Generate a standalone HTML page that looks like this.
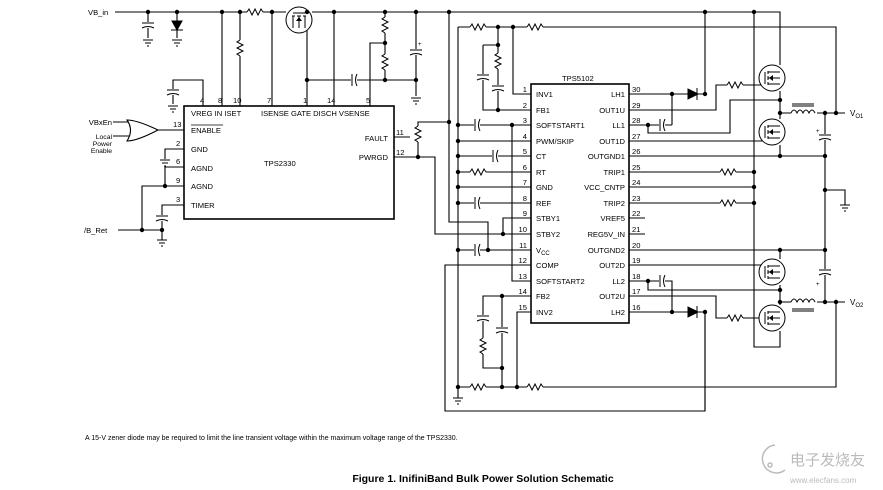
<!DOCTYPE html>
<html><head><meta charset="utf-8"><style>
html,body{margin:0;padding:0;background:#fff;}
svg{display:block;}
text{font-family:"Liberation Sans",Arial,sans-serif;fill:#000;}
.l{font-size:7.6px;}
.n{font-size:7.6px;}
</style></head><body>
<svg width="883" height="490" viewBox="0 0 883 490" xmlns="http://www.w3.org/2000/svg">
<defs>
<g id="rh"><rect x="0" y="-4" width="16" height="8" fill="#fff"/><path d="M0,0 l2,-3 l3,6 l3,-6 l3,6 l3,-6 l2,3" fill="none" stroke="#000" stroke-width="1"/></g>
<g id="rv"><rect x="-4" y="0" width="8" height="16" fill="#fff"/><path d="M0,0 l-3,2 l6,3 l-6,3 l6,3 l-6,3 l3,2" fill="none" stroke="#000" stroke-width="1"/></g>
<g id="ch"><rect x="-3" y="-7" width="6" height="14" fill="#fff"/><path d="M-2,-6 v12 M3,-6 q-3,6 0,12" fill="none" stroke="#000" stroke-width="1"/></g>
<g id="cv"><rect x="-7" y="-3" width="14" height="6" fill="#fff"/><path d="M-6,-2 h12 M-6,3 q6,-3 12,0" fill="none" stroke="#000" stroke-width="1"/></g>
<g id="gnd"><path d="M-5,0 h10 M-3,3 h6 M-1,6 h2" stroke="#000" stroke-width="1"/></g>
<circle id="d" r="2.2" fill="#000"/>
<g id="mos"><circle r="13" fill="#fff" stroke="#000" stroke-width="1"/><path d="M-7,-6 v12 M-4,-7 v3 M-4,-2 v4 M-4,4 v3 M-4,-6 h12 M-4,6 h12 M-4,0 h12" fill="none" stroke="#000" stroke-width="1"/><path d="M-3,0 l4,-3 v6 z" fill="#000"/></g>
</defs>
<g fill="none" stroke="#000" stroke-width="1.1">
<!-- top rail -->
<path d="M115,12 H286 M312,12 H780 V65"/>
<path d="M148,12 V38 M177,12 V38 M222,12 V106 M240,12 V106 M272,12 V106 M307,28 V106 M334,12 V106 M385,12 V80 M416,12 V96 M370,106 V43 H385 M307,80 H416"/>
<path d="M203,106 V80 H173 V104"/>
<!-- TPS2330 left -->
<path d="M158,130 H184 M184,149 H165 V159 M184,167 H165 V186 M184,186 H142 V230 M184,205 H162 V240 M118,230 H162"/>
<path d="M113,122 H131 M113,136 H131"/>
<path d="M127,120 Q137,120 158,130 Q137,141 127,141 Q134,130 127,120 Z" fill="#fff"/>
<!-- TPS2330 right -->
<path d="M394,137 H410 M394,157 H435 V234 H531 M418,157 V122 H449"/>
<!-- 449 and 458 -->
<path d="M449,12 V222 H488 V250 M458,27 V398 M458,27 H836 V113 M498,27 V110 M483,45 V110 H531 M483,45 H498 M513,27 V94 H531"/>
<path d="M458,125 H531 M458,141 H531 M458,156 H531 M458,172 H531 M458,187 H531 M458,203 H531 M458,250 H531 M531,218 H503 V234 M531,281 H512 V125 M531,265 H445 V411 H705 V312"/>
<path d="M531,296 H483 V368 H502 M502,296 V387 M531,312 H517 V387 M458,387 H836 V302"/>
<!-- right pins -->
<path d="M629,94 H705 M705,12 V94 M672,94 V125 M629,125 H672 M648,125 V133 H730 V100 H780 M629,110 H716 V85 H762 M629,141 H762 M629,156 H825"/>
<path d="M629,172 H754 M629,187 H754 M629,203 H754 M629,218 H645 M629,234 H645 M629,250 H825 M629,265 H762"/>
<path d="M629,281 H672 V312 M648,281 V290 H780 M629,296 H716 V318 H762 M629,312 H705 M705,312 V411"/>
<path d="M754,12 V347 H780 V331 M780,91 V119 M780,145 V156 M780,250 V259 M780,285 V305 M780,302 V305"/>
<path d="M780,113 H836 H845 M780,302 H845 M825,113 V302 M825,190 H845 V205"/>
<rect x="184" y="106" width="210" height="113" stroke-width="1.6"/>
<rect x="531" y="84" width="98" height="239" stroke-width="1.6"/>
</g>
<!-- components -->
<use href="#rh" x="247" y="12"/>
<use href="#mos" x="299" y="20" transform="rotate(90 299 20)"/>
<use href="#cv" x="148" y="25"/><use href="#gnd" x="148" y="40"/>
<path d="M171,30 h12 M172,21 h10 l-5,9 z" fill="#000" stroke="#000"/><use href="#gnd" x="177" y="40"/>
<use href="#rv" x="240" y="40"/>
<use href="#rv" x="385" y="17"/><use href="#rv" x="385" y="54"/>
<use href="#ch" x="354" y="80"/>
<use href="#cv" x="416" y="52"/><text x="418" y="46" style="font-size:6px">+</text><use href="#gnd" x="416" y="98"/>
<use href="#cv" x="173" y="92"/><use href="#gnd" x="173" y="106"/>
<use href="#gnd" x="165" y="160"/>
<use href="#cv" x="162" y="218"/><use href="#gnd" x="162" y="240"/>
<use href="#rv" x="418" y="126"/>
<use href="#rh" x="470" y="27"/><use href="#rh" x="527" y="27"/>
<use href="#rv" x="498" y="53"/><use href="#cv" x="498" y="88"/><use href="#cv" x="483" y="77"/>
<use href="#ch" x="477" y="125"/><use href="#ch" x="495" y="156"/><use href="#rh" x="470" y="172"/><use href="#ch" x="477" y="203"/><use href="#ch" x="477" y="250"/>
<use href="#cv" x="502" y="330"/><use href="#cv" x="483" y="318"/><use href="#rv" x="483" y="338"/>
<use href="#rh" x="470" y="387"/><use href="#rh" x="527" y="387"/>
<use href="#gnd" x="458" y="398"/>
<use href="#ch" x="662" y="125"/><use href="#ch" x="662" y="281"/>
<path d="M697,88 v12 M698,94 l-10,-5 v10 z" fill="#000" stroke="#000"/>
<path d="M697,306 v12 M698,312 l-10,-5 v10 z" fill="#000" stroke="#000"/>
<use href="#rh" x="727" y="85"/><use href="#rh" x="727" y="318"/>
<use href="#rh" x="720" y="172"/><use href="#rh" x="720" y="203"/>
<use href="#mos" x="772" y="78"/><use href="#mos" x="772" y="132"/><use href="#mos" x="772" y="272"/><use href="#mos" x="772" y="318"/>
<g fill="#fff" stroke="#000" stroke-width="1"><rect x="791" y="108" width="26" height="6" stroke="none"/><path d="M791,113 q3,-6 6,0 q3,-6 6,0 q3,-6 6,0 q3,-6 6,0 M792,104 h22 M792,106 h22"/>
<rect x="791" y="297" width="26" height="6" stroke="none"/><path d="M791,302 q3,-6 6,0 q3,-6 6,0 q3,-6 6,0 q3,-6 6,0 M792,309 h22 M792,311 h22"/></g>
<use href="#cv" x="825" y="137"/><text x="816" y="133" style="font-size:6px">+</text>
<use href="#cv" x="825" y="272"/><text x="816" y="286" style="font-size:6px">+</text>
<use href="#gnd" x="845" y="205"/>
<g>
<use href="#d" x="148" y="12"/><use href="#d" x="177" y="12"/><use href="#d" x="222" y="12"/><use href="#d" x="240" y="12"/><use href="#d" x="272" y="12"/><use href="#d" x="307" y="12"/><use href="#d" x="334" y="12"/><use href="#d" x="385" y="12"/><use href="#d" x="416" y="12"/><use href="#d" x="449" y="12"/><use href="#d" x="705" y="12"/><use href="#d" x="754" y="12"/>
<use href="#d" x="385" y="43"/><use href="#d" x="307" y="80"/><use href="#d" x="385" y="80"/><use href="#d" x="416" y="80"/>
<use href="#d" x="165" y="186"/><use href="#d" x="142" y="230"/><use href="#d" x="162" y="230"/>
<use href="#d" x="418" y="157"/><use href="#d" x="449" y="122"/>
<use href="#d" x="498" y="27"/><use href="#d" x="513" y="27"/><use href="#d" x="498" y="45"/><use href="#d" x="498" y="110"/>
<use href="#d" x="458" y="125"/><use href="#d" x="512" y="125"/><use href="#d" x="458" y="141"/><use href="#d" x="458" y="156"/><use href="#d" x="458" y="172"/><use href="#d" x="458" y="187"/><use href="#d" x="458" y="203"/><use href="#d" x="503" y="234"/><use href="#d" x="458" y="250"/><use href="#d" x="488" y="250"/>
<use href="#d" x="502" y="296"/><use href="#d" x="502" y="368"/><use href="#d" x="458" y="387"/><use href="#d" x="502" y="387"/><use href="#d" x="517" y="387"/>
<use href="#d" x="672" y="94"/><use href="#d" x="705" y="94"/><use href="#d" x="648" y="125"/><use href="#d" x="672" y="312"/><use href="#d" x="705" y="312"/><use href="#d" x="648" y="281"/>
<use href="#d" x="754" y="172"/><use href="#d" x="754" y="187"/><use href="#d" x="754" y="203"/>
<use href="#d" x="780" y="100"/><use href="#d" x="780" y="113"/><use href="#d" x="780" y="156"/><use href="#d" x="825" y="113"/><use href="#d" x="836" y="113"/><use href="#d" x="825" y="156"/><use href="#d" x="825" y="190"/>
<use href="#d" x="780" y="250"/><use href="#d" x="825" y="250"/><use href="#d" x="780" y="290"/><use href="#d" x="780" y="302"/><use href="#d" x="825" y="302"/><use href="#d" x="836" y="302"/>
</g>
<!-- labels -->
<text class="l" x="88" y="15">VB_in</text>
<text class="l" x="112" y="125" text-anchor="end">VBxEn</text>
<text x="112" y="139" text-anchor="end" style="font-size:6.8px">Local</text>
<text x="112" y="146" text-anchor="end" style="font-size:6.8px">Power</text>
<text x="112" y="153" text-anchor="end" style="font-size:6.8px">Enable</text>
<text class="l" x="84" y="233">/B_Ret</text>
<text class="n" x="200" y="103">4</text><text class="n" x="218" y="103">8</text><text class="n" x="233" y="103">10</text><text class="n" x="267" y="103">7</text><text class="n" x="303" y="103">1</text><text class="n" x="327" y="103">14</text><text class="n" x="366" y="103">5</text>
<text class="l" x="191" y="116">VREG IN ISET</text>
<text class="l" x="261" y="116">ISENSE GATE DISCH VSENSE</text>
<text class="l" x="191" y="133">ENABLE</text><path d="M191,125 h32" stroke="#000" stroke-width="0.8"/>
<text class="l" x="191" y="152">GND</text><text class="l" x="191" y="171">AGND</text><text class="l" x="191" y="189">AGND</text><text class="l" x="191" y="208">TIMER</text>
<text class="n" x="173" y="127">13</text><text class="n" x="176" y="146">2</text><text class="n" x="176" y="164">6</text><text class="n" x="176" y="183">9</text><text class="n" x="176" y="202">3</text>
<text class="l" x="264" y="166">TPS2330</text>
<text class="l" x="388" y="141" text-anchor="end">FAULT</text><text class="l" x="388" y="160" text-anchor="end">PWRGD</text>
<text class="n" x="396" y="135">11</text><text class="n" x="396" y="155">12</text>
<text class="l" x="562" y="81">TPS5102</text>
<g class="l">
<text x="536" y="97">INV1</text><text x="536" y="113">FB1</text><text x="536" y="128">SOFTSTART1</text><text x="536" y="144">PWM/SKIP</text><text x="536" y="159">CT</text><text x="536" y="175">RT</text><text x="536" y="190">GND</text><text x="536" y="206">REF</text><text x="536" y="221">STBY1</text><text x="536" y="237">STBY2</text><text x="536" y="253">V<tspan dy="2" style="font-size:6px">CC</tspan></text><text x="536" y="268">COMP</text><text x="536" y="284">SOFTSTART2</text><text x="536" y="299">FB2</text><text x="536" y="315">INV2</text>
</g>
<g class="l" text-anchor="end">
<text x="625" y="97">LH1</text><text x="625" y="113">OUT1U</text><text x="625" y="128">LL1</text><text x="625" y="144">OUT1D</text><text x="625" y="159">OUTGND1</text><text x="625" y="175">TRIP1</text><text x="625" y="190">VCC_CNTP</text><text x="625" y="206">TRIP2</text><text x="625" y="221">VREF5</text><text x="625" y="237">REG5V_IN</text><text x="625" y="253">OUTGND2</text><text x="625" y="268">OUT2D</text><text x="625" y="284">LL2</text><text x="625" y="299">OUT2U</text><text x="625" y="315">LH2</text>
</g>
<g class="n" text-anchor="end">
<text x="527" y="92">1</text><text x="527" y="108">2</text><text x="527" y="123">3</text><text x="527" y="139">4</text><text x="527" y="154">5</text><text x="527" y="170">6</text><text x="527" y="185">7</text><text x="527" y="201">8</text><text x="527" y="216">9</text><text x="527" y="232">10</text><text x="527" y="248">11</text><text x="527" y="263">12</text><text x="527" y="279">13</text><text x="527" y="294">14</text><text x="527" y="310">15</text>
</g>
<g class="n">
<text x="632" y="92">30</text><text x="632" y="108">29</text><text x="632" y="123">28</text><text x="632" y="139">27</text><text x="632" y="154">26</text><text x="632" y="170">25</text><text x="632" y="185">24</text><text x="632" y="201">23</text><text x="632" y="216">22</text><text x="632" y="232">21</text><text x="632" y="248">20</text><text x="632" y="263">19</text><text x="632" y="279">18</text><text x="632" y="294">17</text><text x="632" y="310">16</text>
</g>
<text x="850" y="116" style="font-size:8px">V<tspan dy="2" style="font-size:6px">O1</tspan></text>
<text x="850" y="305" style="font-size:8px">V<tspan dy="2" style="font-size:6px">O2</tspan></text>
<text x="85" y="440" style="font-size:7px">A 15-V zener diode may be required to limit the line transient voltage within the maximum voltage range of the TPS2330.</text>
<text x="483" y="482" text-anchor="middle" style="font-size:10.5px;font-weight:bold">Figure 1.  InifiniBand Bulk Power Solution Schematic</text>
<g fill="none" stroke="#bbb" stroke-width="1.5"><path d="M775,445 a14,14 0 1 0 10,25"/><circle cx="770" cy="465" r="2"/></g>
<text x="790" y="465" style="font-size:15px;fill:#bbb;font-family:'Noto Sans CJK SC',sans-serif">电子发烧友</text>
<text x="790" y="483" style="font-size:8px;fill:#bbb">www.elecfans.com</text>
</svg>
</body></html>
